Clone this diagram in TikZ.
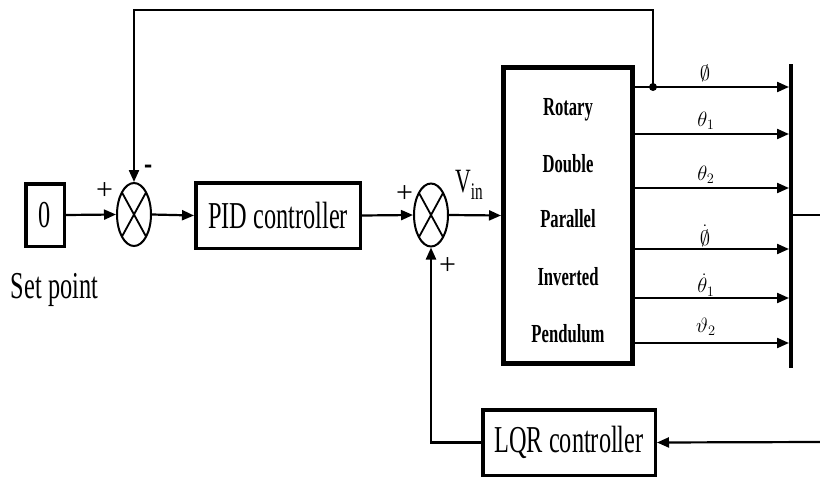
\documentclass[tikz,border=0pt]{standalone}
\usepackage{fontspec}
\setmainfont{Liberation Serif}
\newfontfamily\nf[FakeStretch=0.64]{Liberation Serif}
\usetikzlibrary{shapes.geometric,arrows.meta,calc}
\begin{document}
\begin{tikzpicture}[x=1pt,y=-1pt,
  line width=2.2pt,
  >={Triangle[length=12pt,width=10pt]},
  blk/.style={draw,line width=3.5pt,inner sep=0pt,font=\nf\fontsize{38}{40}\selectfont},
  sumj/.style={draw,ellipse,line width=2pt,minimum width=34pt,minimum height=63pt,inner sep=0pt},
  lbl/.style={font=\nf\fontsize{38}{40}\selectfont,inner sep=0pt},
  sgn/.style={font=\fontsize{30}{32}\selectfont,inner sep=0pt},
  sig/.style={font=\fontsize{20}{22}\selectfont,inner sep=0pt},
  pltxt/.style={font=\nf\bfseries\fontsize{26}{28}\selectfont,inner sep=0pt,anchor=base}
]
\useasboundingbox (0,0) rectangle (820,479);
% blocks
\node[blk,minimum width=38.5pt,minimum height=62.5pt] (sp) at (45,215) {0};
\node[sumj] (s1) at (134,214.5) {};
\node[blk,minimum width=164.5pt,minimum height=65.5pt] (pid) at (278,215.5) {PID controller};
\node[sumj] (s2) at (431,215) {};
\node[blk,line width=5pt,minimum width=129pt,minimum height=296pt] (pl) at (568,215.5) {};
\node[blk,minimum width=172.5pt,minimum height=65.5pt] (lqr) at (569,442.5) {LQR controller};
% crosses in summing junctions
\foreach \s in {s1,s2}{
  \draw[line width=1.8pt] ([shift={(-12,-22)}]\s.center) -- ([shift={(12,22)}]\s.center);
  \draw[line width=1.8pt] ([shift={(12,-22)}]\s.center) -- ([shift={(-12,22)}]\s.center);
}
% plant text
\node[pltxt] (t1) at (568,115) {Rotary};
\node[pltxt] (t2) at (568,172) {Double};
\node[pltxt] (t3) at (568,227) {Parallel};
\node[pltxt] (t4) at (568,285) {Inverted};
\node[pltxt] (t5) at (568,342) {Pendulum};
% labels
\node[lbl,anchor=base] (spl) at (54.5,298) {Set point};
\node[sgn] (p1) at (104.5,191.5) {+};
\node[lbl] (m1) at (148.5,170) {-};
\node[sgn] (p2) at (404.5,194) {+};
\node[sgn] (p3) at (447.5,266) {+};
\node[lbl,anchor=base west,font=\nf\fontsize{34}{36}\selectfont] (vin) at (454,192) {V\textsubscript{in}};
% main path
\draw[->] (sp.east) -- (s1.west);
\draw[->] (s1.east) -- (pid.west);
\draw[->] (pid.east) -- (s2.west);
\draw[->] (s2.east) -- (pl.west);
% bus bar
\coordinate (bt) at (791,64);
\coordinate (bb) at (791,368);
\draw[line width=4pt] (bt) -- (bb);
% outputs
\foreach \yy/\nm in {87/o1,134/o2,188/o3,249/o4,298/o5,343/o6}{
  \coordinate (\nm) at (789,\yy);
  \draw[->] (pl.east |- \nm) -- (\nm);
}
\node[sig] (l1) at (705,73) {$\emptyset$};
\node[sig] (l2) at (706,121) {$\theta_1$};
\node[sig] (l3) at (706,175) {$\theta_2$};
\node[sig] (l4) at (705,236) {$\dot{\emptyset}$};
\node[sig] (l5) at (706,285) {$\dot{\theta}_1$};
\node[sig] (l6) at (706,327) {$\vartheta_2$};
% feedback to first junction
\node[circle,fill,inner sep=0pt,minimum size=8pt] (jd) at (653,87) {};
\coordinate (tp) at (134,10);
\draw[->] (jd.center) |- (tp) -- (s1.north);
% bus output and LQR loop
\coordinate (bm) at (791,215);
\coordinate (oe) at (820,215);
\draw (bm) -- (oe);
\coordinate (le) at (820,442);
\draw[->] (le) -- (lqr.east);
\draw[->] (lqr.west) -| (s2.south);
\end{tikzpicture}
\end{document}
